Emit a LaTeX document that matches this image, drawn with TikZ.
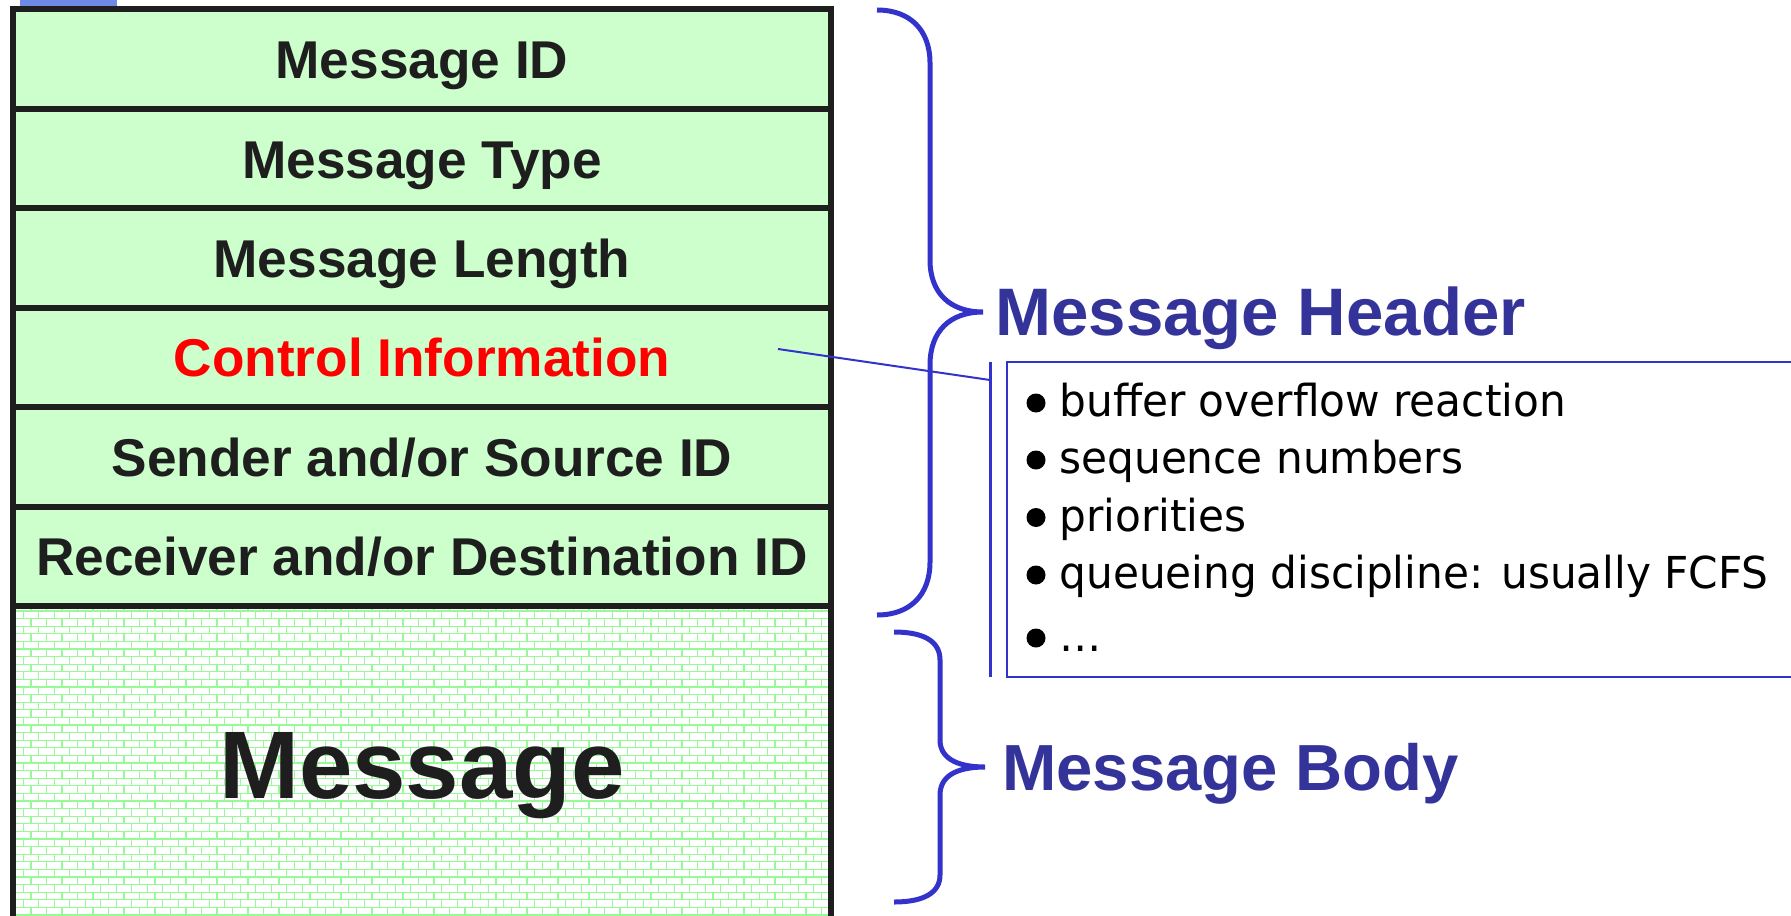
\documentclass[tikz,border=0pt]{standalone}
\usepackage{fontspec}
\setmainfont{Liberation Sans}
\newfontfamily\itemfont[FakeStretch=0.96]{DejaVu Sans}
\usetikzlibrary{patterns}

\definecolor{fieldgreen}{RGB}{204,255,204}
\definecolor{brickgreen}{RGB}{150,250,150}
\definecolor{framegray}{RGB}{30,30,30}
\definecolor{braceblue}{RGB}{51,51,204}
\definecolor{titleblue}{RGB}{51,51,153}
\definecolor{tabblue}{RGB}{108,138,230}

% small brick texture for the body part
\pgfdeclarepatternformonly{smallbricks}{\pgfpoint{-0.4pt}{-0.4pt}}{\pgfpoint{8.15pt}{8pt}}{\pgfpoint{7.75pt}{7.6pt}}{
  \pgfsetlinewidth{0.6pt}
  \pgfpathmoveto{\pgfpoint{0pt}{0pt}}\pgfpathlineto{\pgfpoint{7.75pt}{0pt}}
  \pgfpathmoveto{\pgfpoint{0pt}{3.8pt}}\pgfpathlineto{\pgfpoint{7.75pt}{3.8pt}}
  \pgfpathmoveto{\pgfpoint{0pt}{0pt}}\pgfpathlineto{\pgfpoint{0pt}{3.8pt}}
  \pgfpathmoveto{\pgfpoint{3.875pt}{3.8pt}}\pgfpathlineto{\pgfpoint{3.875pt}{7.6pt}}
  \pgfusepath{stroke}
}

\begin{document}
\begin{tikzpicture}[x=0.5pt, y=-0.5pt,
    field/.style={draw=framegray, line width=3pt, fill=fieldgreen, minimum width=409pt, minimum height=49.7pt,
      inner sep=0pt, text height=19.5pt, text depth=0pt, font=\fontsize{26.6}{31}\selectfont\bfseries, text=framegray},
    brace/.style={draw=braceblue, line width=2.5pt},
    title/.style={inner sep=0pt, anchor=base west, text=titleblue, font=\fontsize{33.6}{38}\selectfont\bfseries},
    dot/.style={circle, fill=black, inner sep=0pt, minimum size=9.5pt},
    item/.style={inner sep=0pt, anchor=base west, font=\itemfont\fontsize{22}{26}\selectfont}]
    \useasboundingbox (0,0) rectangle (1791,915);
    \clip (0,0) rectangle (1791,915);

    \fill[tabblue] (20,0) rectangle (117,6);

    % header fields
    \foreach \txt/\col [count=\i] in {Message ID/framegray, Message Type/framegray, Message Length/framegray,
        Control Information/red, {Sender and/or Source ID}/framegray, {Receiver and/or Destination ID}/framegray}
      \node[field, text=\col] (f\i) at (422,{59.2+(\i-1)*99.4}) {\txt};

    % body
    \node[field, fill=white, pattern=smallbricks, pattern color=brickgreen, minimum height=157.6pt,
      text height=34.5pt, font=\fontsize{48}{54}\selectfont\bfseries] (body) at (422,763.5) {Message};

    % braces
    \draw[brace] (877,10) .. controls (910,10) and (930,30) .. (930,63) -- (930,260)
      .. controls (930,293) and (950,312) .. (983,312) .. controls (950,312) and (930,331) .. (930,365)
      -- (930,562) .. controls (930,595) and (910,615) .. (877,615);
    \draw[brace] (894,632) .. controls (925,632) and (940,642) .. (940,660) -- (940,740)
      .. controls (940,757) and (955,767) .. (985,767) .. controls (955,767) and (940,777) .. (940,795)
      -- (940,875) .. controls (940,892) and (925,902) .. (894,902);

    \node[title] (hdr) at (995,335) {Message Header};
    \node[title, font=\fontsize{32.6}{37}\selectfont\bfseries] (bdy) at (1002,790) {Message Body};

    % control information details
    \node[draw=braceblue, line width=1pt, minimum width=397pt, minimum height=157.5pt] (box) at (1404,519.5) {};
    \coordinate (bartop) at (990,362);
    \coordinate (barbot) at (990,677);
    \draw[braceblue, line width=1.5pt] (bartop) -- (barbot);
    \foreach \txt/\yy [count=\i] in {buffer overflow reaction/403, sequence numbers/460, priorities/517.5,
        queueing discipline: usually FCFS/575, {\ldots}/638} {
      \node[dot] (d\i) at (1036,\yy) {};
      \node[item] (t\i) at (1059,\yy+13.5) {\txt};
    }
    \coordinate (ptr) at (778,349);
    \coordinate (barhit) at (990,380);
    \draw[braceblue, line width=1pt] (ptr) -- (barhit);
\end{tikzpicture}
\end{document}
